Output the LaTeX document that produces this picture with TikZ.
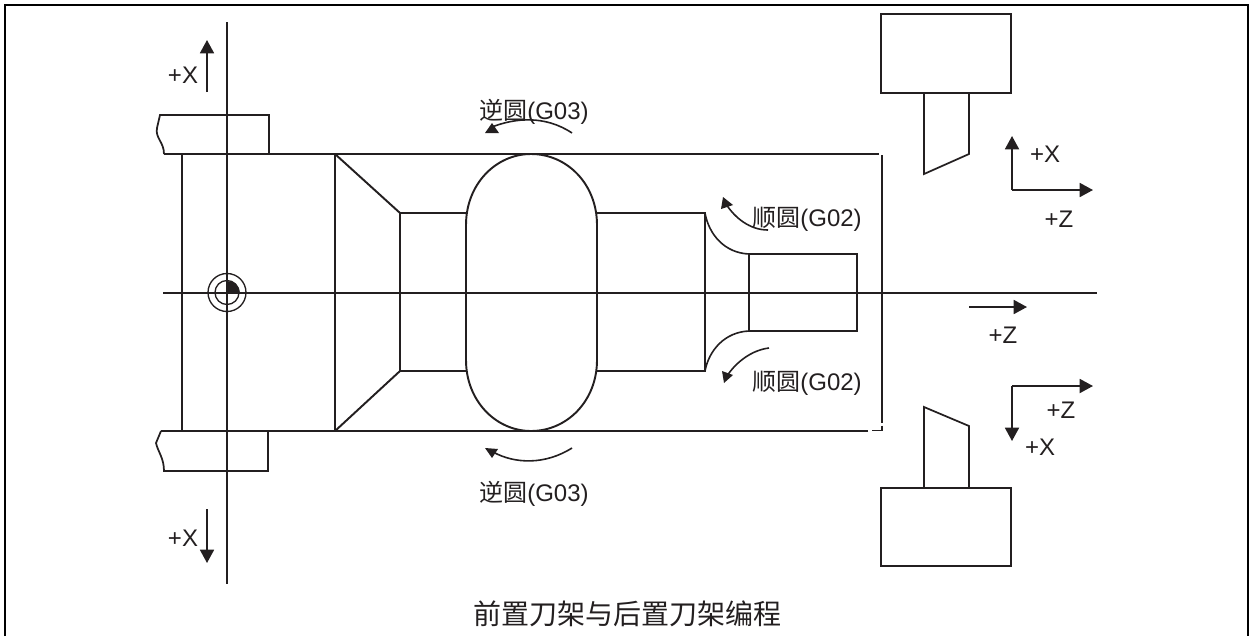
\documentclass[tikz,border=0pt]{standalone}
\usepackage{fontspec}
\setmainfont{Liberation Sans}
\newfontfamily\cjk{Noto Sans CJK SC}
\usetikzlibrary{arrows.meta}
\definecolor{ink}{HTML}{231F20}
\tikzset{
 ln/.style={draw=ink,line width=1.45pt},
 med ln/.style={draw=ink,line width=1.3pt},
 thin ln/.style={draw=ink,line width=1pt},
 arr/.style={draw=ink,line width=1.35pt,-{Triangle[length=10pt,width=10.5pt]}},
 arc ln/.style={draw=ink,line width=1.2pt},
 lab/.style={text=ink,font=\fontsize{18pt}{20pt}\selectfont,inner sep=0pt},
 capt/.style={text=ink,font=\cjk\fontsize{21pt}{23pt}\selectfont,inner sep=0pt}
}
\newcommand{\cn}[1]{{\cjk #1}}
\begin{document}
\begin{tikzpicture}[x=0.75pt,y=-0.75pt]
\useasboundingbox (0,0) rectangle (1252,636);
\draw[ln,draw=black] (5,636) -- (5,5) -- (1248,5) -- (1248,636);
% axes
\coordinate (axT) at (227,22); \coordinate (axB) at (227,584);
\coordinate (axL) at (163,293); \coordinate (axR) at (1097,293);
\draw[ln] (axT) -- (axB);
\draw[ln] (axL) -- (axR);
% chucks
\draw[med ln] (164,154) .. controls (164,142) and (155,138) .. (157,128) -- (160,115) -- (269,115) -- (269,154);
\draw[med ln] (161,431) -- (156,443) .. controls (158,452) and (164,458) .. (164,471) -- (268,471) -- (268,431);
% stock
\draw[ln] (164,154) -- (879,154);
\draw[ln] (882,155) -- (882,423);
\draw[ln] (882,425.5) -- (882,430.5) -- (872,430.5);
\draw[ln] (868,431) -- (161,431);
\draw[ln] (182,154) -- (182,431);
\draw[ln] (335,154) -- (335,431);
\draw[ln] (335,154) -- (400,213) -- (466,213);
\draw[ln] (335,431) -- (400,371) -- (466,371);
\draw[ln] (400,213) -- (400,371);
\draw[ln] (466,225) -- (466,360);
\draw[ln] (597,225) -- (597,360);
\draw[ln] (466,225) .. controls (466,184) and (496,154) .. (531,154) .. controls (567,154) and (597,184) .. (597,225);
\draw[ln] (466,360) .. controls (466,401) and (496,431) .. (531,431) .. controls (567,431) and (597,401) .. (597,360);
\draw[ln] (597,213) -- (705,213) -- (705,371) -- (597,371);
\draw[arc ln] (705,213) .. controls (709,235) and (725,253) .. (749,254);
\draw[arc ln] (705,371) .. controls (709,350) and (725,332) .. (749,331);
\draw[ln] (749,254) -- (857,254) -- (857,331) -- (749,331) -- cycle;
% centre mark
\draw[thin ln] (227,292.5) circle (19);
\draw[thin ln] (227,292.5) circle (12);
\fill[ink] (227,293) -- (240,293) arc (0:-90:13 and 12) -- cycle;
% arcs with arrowheads
\draw[arc ln] (572,133) .. controls (545,115) and (515,118) .. (492,127);
\fill[ink] (492,123) -- (485,133) -- (499,133) -- cycle;
\draw[arc ln] (572,448) .. controls (545,465) and (515,464) .. (493,452);
\fill[ink] (485,448) -- (498,449) -- (492,458) -- cycle;
\draw[arc ln] (768,230) .. controls (750,230) and (735,218) .. (726,204);
\fill[ink] (723,197) -- (721,209) -- (733,205) -- cycle;
\draw[arc ln] (769,348) .. controls (752,350) and (736,362) .. (727,376);
\fill[ink] (722,371) -- (733,375) -- (724,383) -- cycle;
% direction arrows
\draw[arr] (207,92) -- (207,40);
\draw[arr] (207,509) -- (207,563);
\draw[arr] (969,307) -- (1027,307);
\draw[arr] (1012,190) -- (1012,136);
\draw[arr] (1012,190) -- (1093,190);
\draw[arr] (1012,386) -- (1093,386);
\draw[arr] (1012,386) -- (1012,441);
% tools
\draw[med ln] (881,14) rectangle (1011,93);
\draw[med ln] (924,93) -- (924,174) -- (969,154) -- (969,93);
\draw[med ln] (881,488) rectangle (1011,566);
\draw[med ln] (924,488) -- (924,407) -- (969,426) -- (969,488);
% labels
\node[lab] (l1) at (183,75) {+X};
\node[lab] (l2) at (183,538) {+X};
\node[lab] (l3) at (1045,154) {+X};
\node[lab] (l4) at (1040,447) {+X};
\node[lab] (l5) at (1059,219) {+Z};
\node[lab] (l6) at (1061,410) {+Z};
\node[lab] (l7) at (1003,335) {+Z};
\node[lab] (l8) at (534,112) {\cn{逆圆}(G03)};
\node[lab] (l9) at (534,494) {\cn{逆圆}(G03)};
\node[lab] (l10) at (807,219) {\cn{顺圆}(G02)};
\node[lab] (l11) at (807,383) {\cn{顺圆}(G02)};
\node[capt] (c) at (627,614) {前置刀架与后置刀架编程};
\end{tikzpicture}
\end{document}
